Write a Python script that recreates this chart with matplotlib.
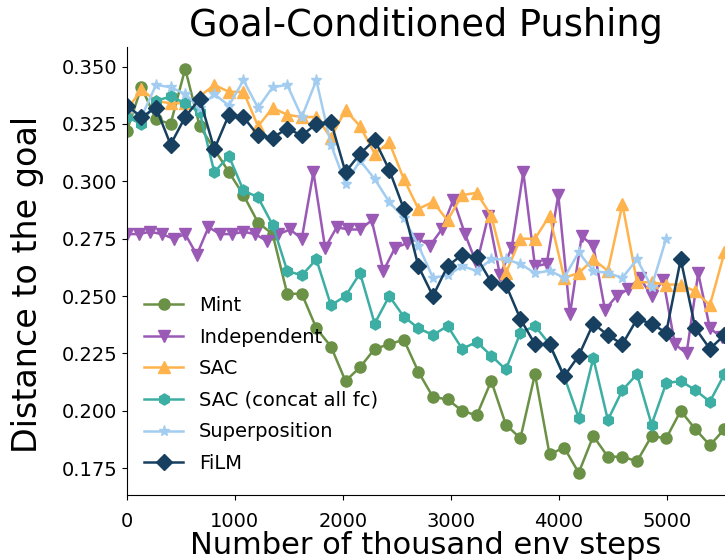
import numpy as np
import matplotlib
matplotlib.use("Agg")
import matplotlib.pyplot as plt

# logged every ~135k steps (Independent every ~108k)
step_main = 135
step_ind = 108

mint = [0.322, 0.341, 0.327, 0.325, 0.349, 0.324, 0.314, 0.304, 0.294, 0.282,
        0.277, 0.251, 0.251, 0.236, 0.228, 0.213, 0.219, 0.227, 0.229, 0.231,
        0.217, 0.206, 0.205, 0.200, 0.198, 0.213, 0.194, 0.188, 0.216, 0.181,
        0.184, 0.173, 0.189, 0.180, 0.180, 0.178, 0.189, 0.188, 0.200, 0.192,
        0.185, 0.192]
independent = [0.277, 0.277, 0.278, 0.277, 0.275, 0.277, 0.268, 0.280, 0.277, 0.277,
               0.278, 0.277, 0.274, 0.277, 0.279, 0.275, 0.304, 0.271, 0.280, 0.279,
               0.279, 0.283, 0.261, 0.271, 0.273, 0.275, 0.272, 0.279, 0.292, 0.277,
               0.264, 0.285, 0.259, 0.271, 0.304, 0.263, 0.264, 0.294, 0.242, 0.276,
               0.272, 0.244, 0.250, 0.253, 0.258, 0.250, 0.257, 0.229, 0.225, 0.260,
               0.236, 0.232]
sac = [0.331, 0.340, 0.335, 0.334, 0.334, 0.337, 0.342, 0.339, 0.339, 0.324,
       0.332, 0.329, 0.328, 0.328, 0.319, 0.331, 0.324, 0.312, 0.317, 0.301,
       0.288, 0.291, 0.283, 0.294, 0.295, 0.285, 0.260, 0.275, 0.275, 0.285,
       0.258, 0.260, 0.266, 0.261, 0.290, 0.256, 0.256, 0.255, 0.255, 0.252,
       0.246, 0.269]
sac_concat = [0.328, 0.325, 0.335, 0.337, 0.334, 0.330, 0.304, 0.311, 0.296, 0.293,
              0.281, 0.261, 0.259, 0.266, 0.246, 0.250, 0.260, 0.238, 0.250, 0.241,
              0.236, 0.233, 0.237, 0.227, 0.230, 0.224, 0.218, 0.234, 0.237, 0.229,
              0.215, 0.197, 0.223, 0.196, 0.209, 0.216, 0.194, 0.212, 0.213, 0.209,
              0.204, 0.216]
superposition = [0.332, 0.328, 0.342, 0.341, 0.338, 0.332, 0.338, 0.333, 0.344, 0.332,
                 0.341, 0.342, 0.328, 0.344, 0.316, 0.299, 0.309, 0.301, 0.291, 0.284,
                 0.272, 0.258, 0.259, 0.263, 0.261, 0.266, 0.266, 0.264, 0.260, 0.261,
                 0.258, 0.269, 0.261, 0.260, 0.258, 0.266, 0.254, 0.275]
film = [0.333, 0.328, 0.332, 0.316, 0.328, 0.336, 0.314, 0.329, 0.328, 0.320,
        0.319, 0.323, 0.320, 0.325, 0.326, 0.304, 0.312, 0.318, 0.305, 0.288,
        0.263, 0.250, 0.263, 0.268, 0.267, 0.256, 0.255, 0.240, 0.229, 0.229,
        0.215, 0.224, 0.238, 0.233, 0.229, 0.240, 0.238, 0.234, 0.266, 0.236,
        0.227, 0.233]

series = [
    ("Mint", mint, step_main, "#6A9145", "o"),
    ("Independent", independent, step_ind, "#9B59B6", "v"),
    ("SAC", sac, step_main, "#FFB34D", "^"),
    ("SAC (concat all fc)", sac_concat, step_main, "#3CAEA3", "h"),
    ("Superposition", superposition, step_main, "#A2CDF0", "*"),
    ("FiLM", film, step_main, "#173F5F", "D"),
]

fig = plt.figure(figsize=(7.25, 5.6), dpi=100)
ax = fig.add_axes([0.175, 0.116, 0.825, 0.80])

for label, vals, step, color, marker in series:
    x = np.arange(len(vals)) * step
    ax.plot(x, vals, color=color, marker=marker, markersize=8, linewidth=1.8, label=label)

ax.set_xlim(0, 5540)
ax.set_ylim(0.1633, 0.3585)
ax.set_xticks([0, 1000, 2000, 3000, 4000, 5000])
ax.set_yticks([0.175, 0.200, 0.225, 0.250, 0.275, 0.300, 0.325, 0.350])
ax.spines['top'].set_visible(False)
ax.spines['right'].set_visible(False)
ax.tick_params(axis='both', labelsize=14)
ax.tick_params(axis='x', pad=9)

ax.set_title("Goal-Conditioned Pushing", fontsize=26.5, pad=8)
ax.set_xlabel("Number of thousand env steps", fontsize=22, labelpad=0)
ax.set_ylabel("Distance to the goal", fontsize=24)
ax.yaxis.set_label_coords(-0.138, 0.47)

ax.legend(loc='lower left', bbox_to_anchor=(0.0, 0.01), frameon=False, fontsize=14,
          handlelength=2.0, labelspacing=0.65)

fig.savefig("out.png", dpi=100)
